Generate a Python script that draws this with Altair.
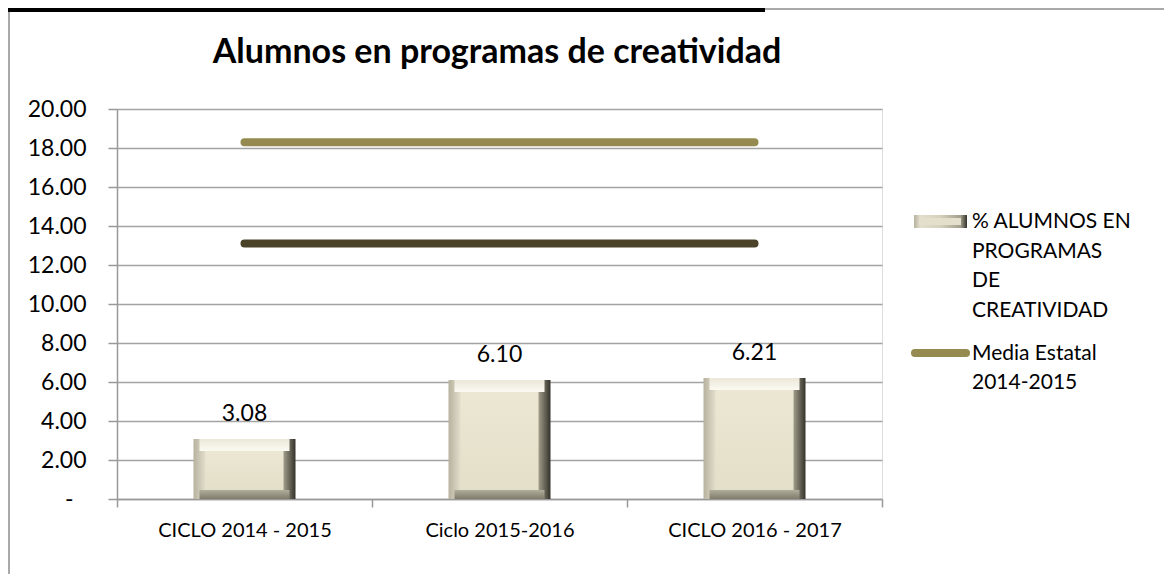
import altair as alt
import pandas as pd

# ---------------- data ----------------
ciclos = ["CICLO 2014 - 2015", "Ciclo 2015-2016", "CICLO 2016 - 2017"]
pct_alumnos = [3.08, 6.10, 6.21]
media_estatal = [18.3, 18.3, 18.3]
media_otra = [13.1, 13.1, 13.1]
y_ticks = [0, 2, 4, 6, 8, 10, 12, 14, 16, 18, 20]
titulo = "Alumnos en programas de creatividad"
leyenda_barras = ["% ALUMNOS EN", "PROGRAMAS", "DE", "CREATIVIDAD"]
leyenda_linea = ["Media Estatal", "2014-2015"]
series_lineas = ["Media Estatal 2014-2015", "Media 2"]
colores_lineas = ["#958a50", "#4a4329"]

FONT = "Lato"
W, H = 765, 390

bars_df = pd.DataFrame({"ciclo": ciclos, "valor": pct_alumnos, "cero": [0.0] * len(ciclos)})
lines_df = pd.DataFrame({
    "ciclo": ciclos * 2,
    "valor": media_estatal + media_otra,
    "serie": [series_lineas[0]] * 3 + [series_lineas[1]] * 3,
})

x_enc = alt.X(
    "ciclo:N", sort=ciclos, title=None,
    scale=alt.Scale(paddingInner=0, paddingOuter=0),
    axis=alt.Axis(labelAngle=0, labelFont=FONT, labelFontSize=20, labelColor="#000",
                  tickBand="extent", tickSize=8, tickColor="#999", domainColor="#999",
                  domainWidth=1.5, tickWidth=1.5, labelPadding=13, grid=False),
)
y_axis = alt.Axis(values=y_ticks, labelFont=FONT, labelFontSize=23, labelColor="#000",
                  labelExpr="datum.value == 0 ? '-' : format(datum.value, '.2f')",
                  labelPadding={"condition": {"test": "datum.value == 0", "value": 35}, "value": 22},
                  tickSize=9, tickColor="#999", tickWidth=1.5, domainColor="#999", domainWidth=1.5,
                  gridColor="#a3a3a3", gridWidth=1.5, title=None)
y_scale = alt.Scale(domain=[0, 20], nice=False, zero=True)

def Y(field, **kw):
    return alt.Y(field, scale=y_scale, axis=y_axis, **kw)

base_b = alt.Chart(bars_df)

grad_h = alt.Gradient(gradient="linear", x1=0, x2=1, y1=0, y2=0, stops=[
    alt.GradientStop(offset=0, color="#b6b29e"),
    alt.GradientStop(offset=0.118, color="#e2decc"),
    alt.GradientStop(offset=0.5, color="#d6d1bc"),
    alt.GradientStop(offset=0.882, color="#a29e8c"),
    alt.GradientStop(offset=1, color="#34322a"),
])
grad_top = alt.Gradient(gradient="linear", x1=0, x2=0, y1=0, y2=1, stops=[
    alt.GradientStop(offset=0, color="#ebe8d9"),
    alt.GradientStop(offset=1, color="#fbfaf2"),
])
grad_bottom = alt.Gradient(gradient="linear", x1=0, x2=0, y1=0, y2=1, stops=[
    alt.GradientStop(offset=0, color="#b1ad9b"),
    alt.GradientStop(offset=1, color="#807c6c"),
])
grad_face = alt.Gradient(gradient="linear", x1=0, x2=0, y1=0, y2=1, stops=[
    alt.GradientStop(offset=0, color="#ebe7d3"),
    alt.GradientStop(offset=1, color="#e4dfc8"),
])

bar_outer = base_b.mark_bar(size=102, fill=grad_h, strokeWidth=0).encode(
    x=x_enc, y=Y("valor:Q"), y2="cero:Q")
bar_top = base_b.mark_bar(size=90, fill=grad_top, y2Offset=12, strokeWidth=0).encode(
    x=x_enc, y=Y("valor:Q"), y2="valor:Q")
bar_bottom = base_b.mark_bar(size=90, fill=grad_bottom, yOffset=-9, strokeWidth=0).encode(
    x=x_enc, y=Y("cero:Q"), y2="cero:Q")
bar_face = base_b.mark_bar(size=78, fill=grad_face, yOffset=12, y2Offset=-9, strokeWidth=0).encode(
    x=x_enc, y=Y("valor:Q"), y2="cero:Q")

bar_labels = base_b.mark_text(font=FONT, fontSize=23, dy=-18, baseline="alphabetic",
                              color="#000").encode(
    x=x_enc, y=Y("valor:Q"), text=alt.Text("valor:Q", format=".2f"))

lines = alt.Chart(lines_df).mark_line(strokeWidth=8, strokeCap="round").encode(
    x=x_enc, y=Y("valor:Q"),
    color=alt.Color("serie:N", scale=alt.Scale(domain=series_lineas, range=colores_lineas),
                    legend=None),
    detail="serie:N",
)

one = alt.Data(values=[{"k": 1}])

def txt(t, x, y, size, weight="normal", align="left"):
    return alt.Chart(one).mark_text(font=FONT, fontSize=size, fontWeight=weight, align=align,
                                    baseline="alphabetic", color="#000").encode(
        x=alt.value(x), y=alt.value(y), text=alt.value(t))

title_layer = txt(titulo, 380, -46, 34, weight="bold", align="center")

legend_layers = []
for i, t in enumerate(leyenda_barras):
    legend_layers.append(txt(t, 855, 119 + i * 29.5, 21))
for i, t in enumerate(leyenda_linea):
    legend_layers.append(txt(t, 855, 251 + i * 29, 21))

leg_bar_outer = alt.Chart(one).mark_rect(fill=grad_h).encode(
    x=alt.value(797), x2=alt.value(850), y=alt.value(106), y2=alt.value(119))
leg_bar_inner = alt.Chart(one).mark_rect(fill="#e4dfca").encode(
    x=alt.value(802), x2=alt.value(844), y=alt.value(109), y2=alt.value(116))
leg_line = alt.Chart(one).mark_rule(strokeWidth=8, strokeCap="round", color=colores_lineas[0]).encode(
    x=alt.value(798), x2=alt.value(849), y=alt.value(244))

black_bar = alt.Chart(one).mark_rect(fill="#000").encode(
    x=alt.value(-109), x2=alt.value(648), y=alt.value(-101), y2=alt.value(-97))
border_left = alt.Chart(one).mark_rule(color="#8c8c8c", strokeWidth=1.5).encode(
    x=alt.value(-108), y=alt.value(-101), y2=alt.value(480))
border_top = alt.Chart(one).mark_rule(color="#8c8c8c", strokeWidth=1.5).encode(
    x=alt.value(-109), x2=alt.value(1060), y=alt.value(-100))

chart = alt.layer(
    border_left, border_top, black_bar,
    bar_outer, bar_top, bar_bottom, bar_face, bar_labels,
    lines,
    title_layer, *legend_layers, leg_bar_outer, leg_bar_inner, leg_line,
).properties(
    width=W, height=H,
    autosize=alt.AutoSizeParams(type="none"),
    padding={"left": 109, "top": 101, "right": 282, "bottom": 75},
).configure_view(stroke=None).configure(background="#ffffff")

chart.save("out.html", embed_options={"renderer": "svg", "actions": False})
